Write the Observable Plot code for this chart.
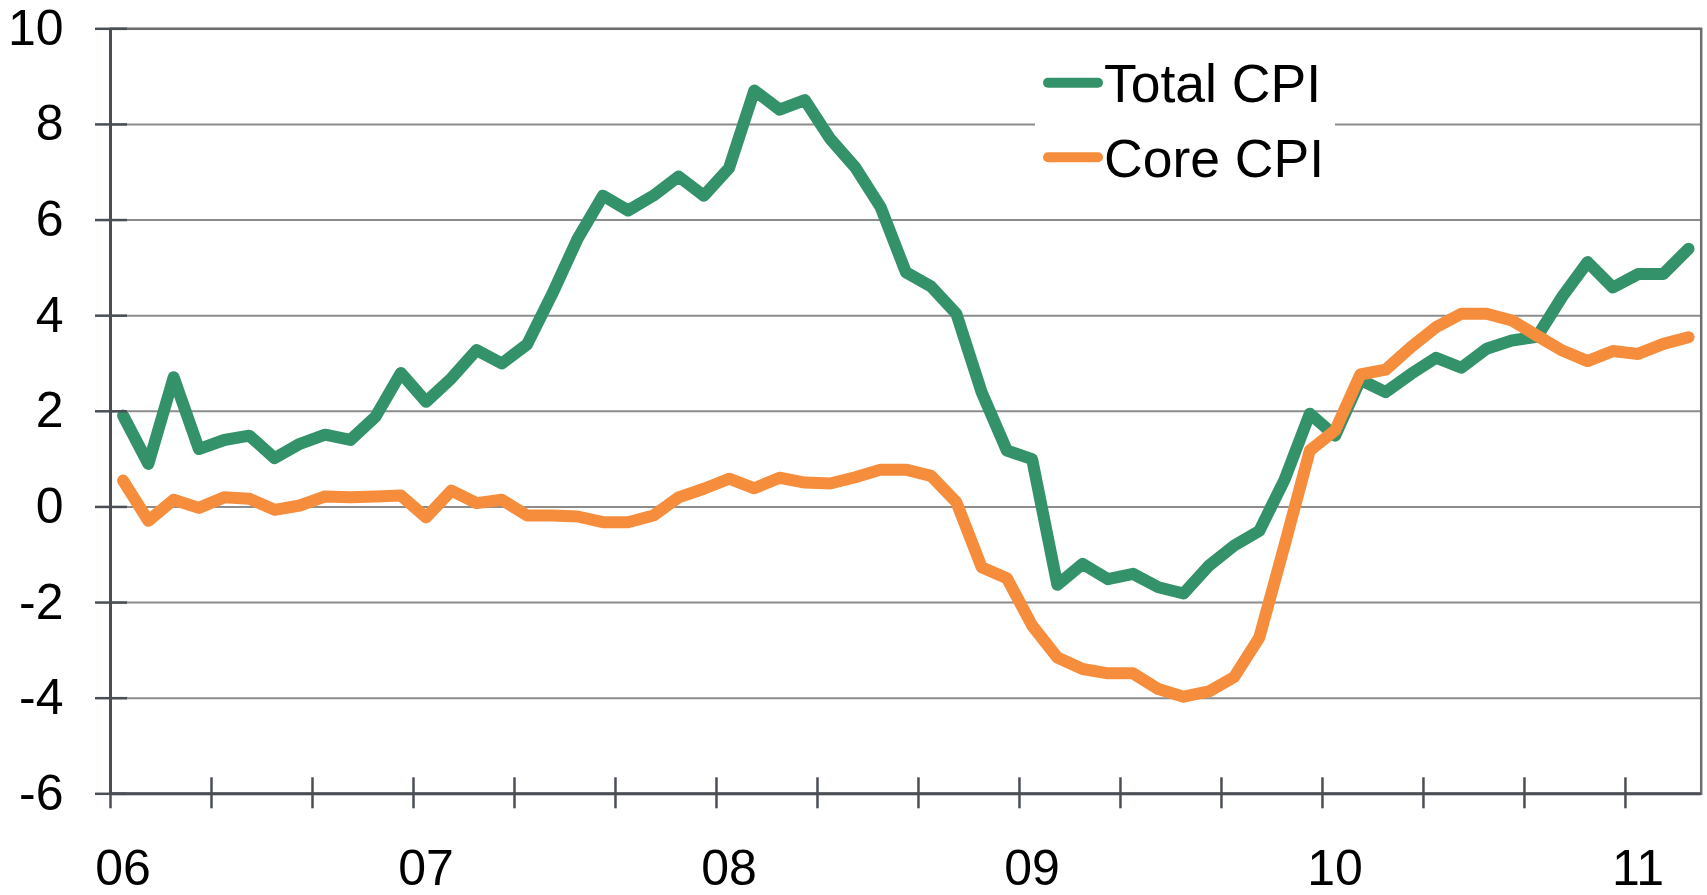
<!DOCTYPE html>
<html>
<head>
<meta charset="utf-8">
<script src="https://cdn.jsdelivr.net/npm/d3@7"></script>
<script src="https://cdn.jsdelivr.net/npm/@observablehq/plot@0.6"></script>
<style>
  html, body { margin: 0; padding: 0; background: #fff; }
  #wrap { position: relative; width: 1707px; height: 895px; }
  #legend { position: absolute; left: 0; top: 0; }
</style>
</head>
<body>
<div id="wrap"></div>
<script>
// ---- Data (year-over-year %, monthly Jan 2006 – Mar 2011) ----
const startMonth = "2006-01";
const yearLabels = ["06", "07", "08", "09", "10", "11"];
const yTickValues = [10, 8, 6, 4, 2, 0, -2, -4, -6];
const seriesNames = ["Total CPI", "Core CPI"];
const seriesColors = ["#34926A", "#F58D3C"];

const totalCPI = [
  1.91, 0.90, 2.71, 1.21, 1.40, 1.49, 1.02, 1.32, 1.51, 1.40, 1.89, 2.80,
  2.20, 2.69, 3.28, 3.00, 3.40, 4.46, 5.61, 6.51, 6.20, 6.51, 6.91, 6.51,
  7.09, 8.71, 8.31, 8.51, 7.70, 7.10, 6.27, 4.91, 4.61, 4.04, 2.40, 1.18,
  1.00, -1.63, -1.19, -1.51, -1.40, -1.68, -1.81, -1.23, -0.81, -0.50, 0.57, 1.95,
  1.49, 2.66, 2.40, 2.78, 3.12, 2.91, 3.31, 3.48, 3.56, 4.40, 5.12, 4.59,
  4.87, 4.87, 5.40
];
const coreCPI = [
  0.55, -0.29, 0.15, -0.02, 0.20, 0.17, -0.06, 0.03, 0.22, 0.20, 0.22, 0.24,
  -0.22, 0.34, 0.08, 0.15, -0.18, -0.18, -0.20, -0.32, -0.32, -0.18, 0.20, 0.38,
  0.59, 0.39, 0.61, 0.51, 0.49, 0.62, 0.78, 0.78, 0.65, 0.10, -1.26, -1.49,
  -2.48, -3.15, -3.39, -3.48, -3.48, -3.81, -3.97, -3.86, -3.56, -2.73, -0.80, 1.18,
  1.60, 2.77, 2.87, 3.34, 3.76, 4.04, 4.04, 3.90, 3.58, 3.27, 3.05, 3.26,
  3.20, 3.41, 3.55
];

// ---- Build table ----
const rows = [];
[totalCPI, coreCPI].forEach((arr, s) => {
  arr.forEach((v, i) => rows.push({series: seriesNames[s], idx: i + 0.5, value: v}));
});
const nMonths = totalCPI.length;
const xTickValues = d3.range(0, nMonths, 4);           // month boundaries every 4 months
const yearTickValues = yearLabels.map((_, k) => k * 12 + 0.5); // January of each year

const fmt = d => String(d);
const axisColor = "#4a4f55";
const fontFam = "'Liberation Sans', Arial, sans-serif";

const chart = Plot.plot({
  width: 1707,
  height: 895,
  marginLeft: 110,
  marginRight: 6.3,
  marginTop: 28.3,
  marginBottom: 101.7,
  style: {fontFamily: fontFam, fontSize: "50px", background: "#fff", color: "#000"},
  x: {domain: [0, nMonths], axis: null},
  y: {domain: [-6, 10], axis: null},
  color: {domain: seriesNames, range: seriesColors},
  marks: [
    Plot.gridY(yTickValues.filter(d => d > -6), {stroke: "#8c8c8c", strokeOpacity: 1, strokeWidth: 2}),
    Plot.frame({stroke: "#6e6e6e", strokeWidth: 2.5}),
    Plot.line(rows, {x: "idx", y: "value", z: "series", stroke: "series", strokeWidth: 12, strokeLinejoin: "round", strokeLinecap: "round"}),
    // axis lines
    Plot.ruleX([0], {stroke: axisColor, strokeWidth: 3}),
    Plot.ruleY([-6], {stroke: axisColor, strokeWidth: 3}),
    // y tick marks crossing the axis
    Plot.axisY({ticks: yTickValues, tickSize: 32, dx: 17, tickFormat: () => "", label: null, stroke: axisColor, strokeWidth: 2.5}),
    // y labels
    Plot.axisY({ticks: yTickValues, tickSize: 0, tickPadding: 47, tickFormat: fmt, label: null, fontSize: 50, fill: "#000"}),
    // x tick marks crossing the axis
    Plot.axisX({ticks: xTickValues, tickSize: 31, dy: -16, tickFormat: () => "", label: null, stroke: axisColor, strokeWidth: 2.5}),
    // x year labels under January of each year
    Plot.axisX({ticks: yearTickValues, tickSize: 0, tickPadding: 56, tickFormat: (d, i) => yearLabels[i], label: null, fontSize: 50, fill: "#000"})
  ]
});

const wrap = document.getElementById("wrap");
wrap.appendChild(chart);

// ---- Legend (inside plot, white box) ----
const legend = d3.select(wrap).append("svg")
  .attr("id", "legend")
  .attr("width", 1707).attr("height", 895)
  .style("pointer-events", "none");
legend.append("rect").attr("x", 1035).attr("y", 45).attr("width", 300).attr("height", 145).attr("fill", "#fff");
seriesNames.forEach((name, k) => {
  const cy = 82.7 + k * 74.5;
  legend.append("line")
    .attr("x1", 1048).attr("x2", 1098).attr("y1", cy).attr("y2", cy)
    .attr("stroke", seriesColors[k]).attr("stroke-width", 10).attr("stroke-linecap", "round");
  legend.append("text")
    .attr("x", 1104).attr("y", 102 + k * 75)
    .attr("font-family", fontFam)
    .attr("font-size", 53.5)
    .attr("fill", "#000")
    .text(name);
});
</script>
</body>
</html>
